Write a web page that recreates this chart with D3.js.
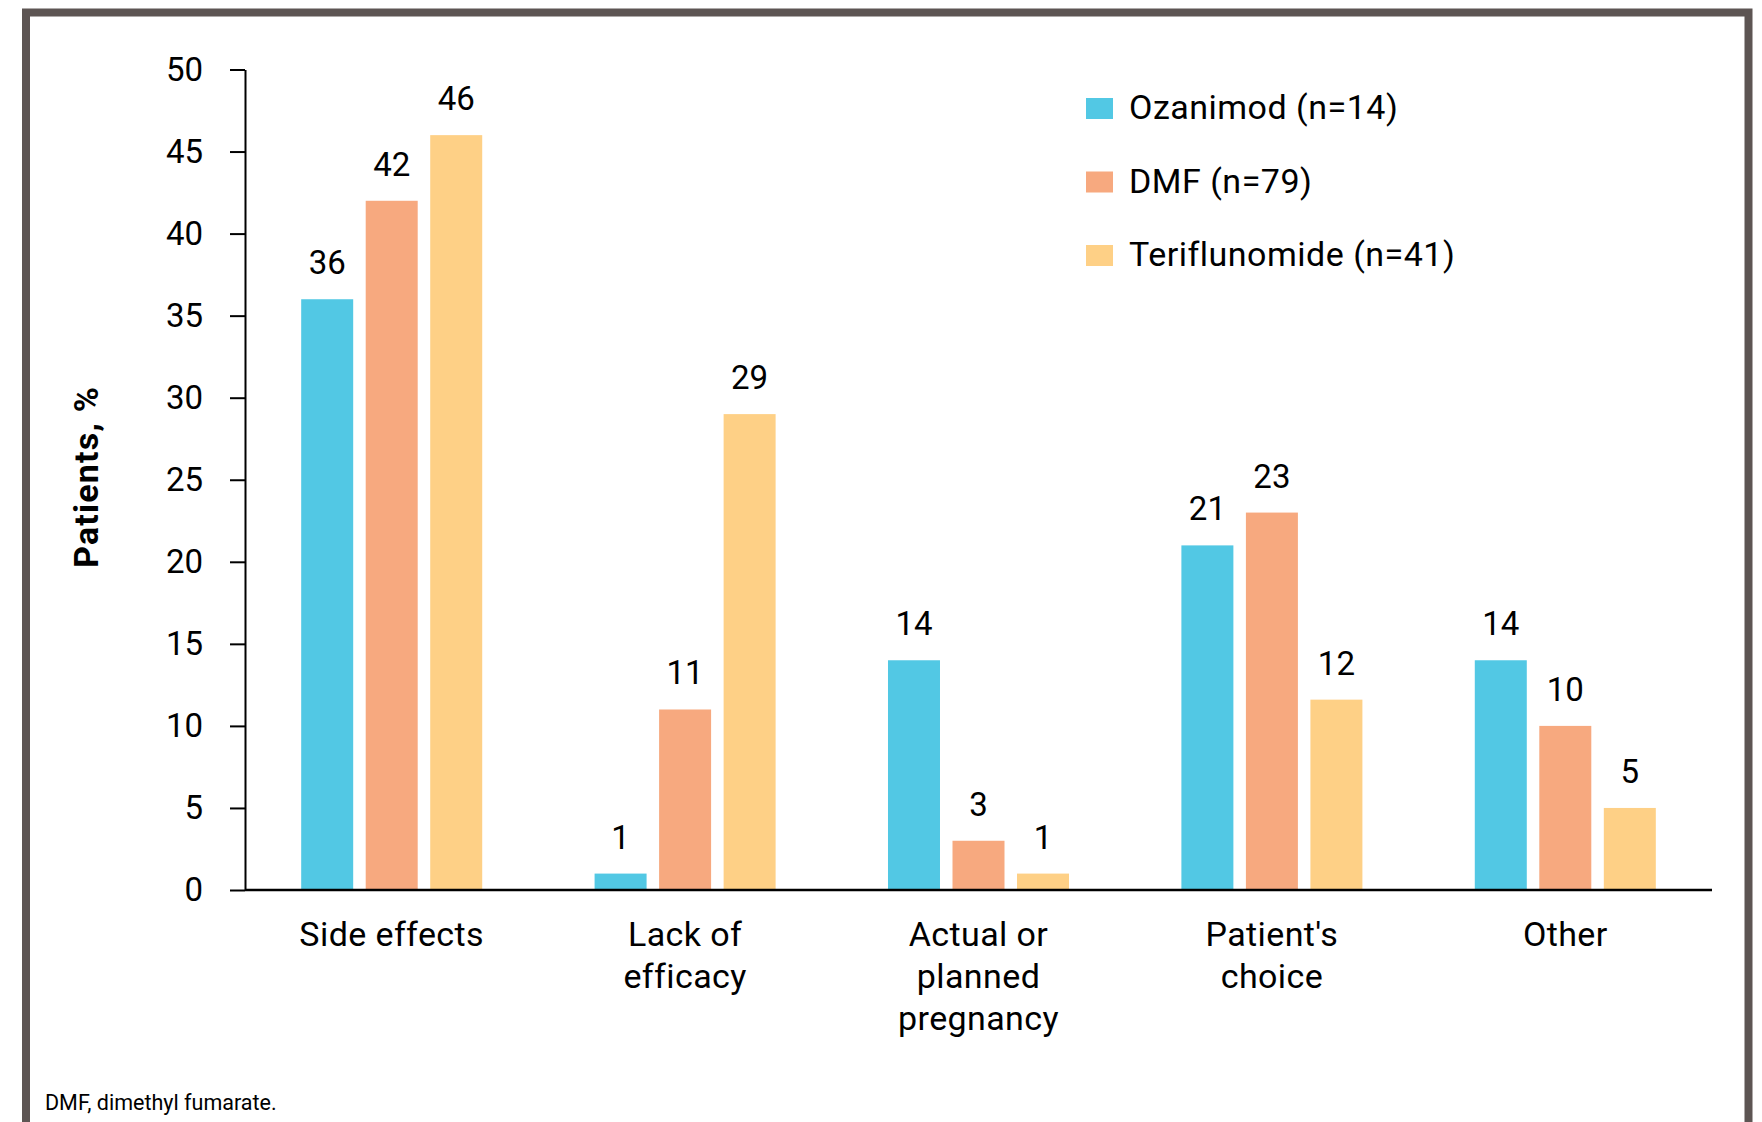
<!DOCTYPE html>
<html>
<head>
<meta charset="utf-8">
<script src="https://cdn.jsdelivr.net/npm/d3@7"></script>
<style>
  body { margin: 0; background: #fff; }
  svg { display: block; font-family: Roboto, "Open Sans", sans-serif; }
</style>
</head>
<body>
<div id="chart"></div>
<script>
// Data
const categories = [["Side effects"], ["Lack of", "efficacy"], ["Actual or", "planned", "pregnancy"], ["Patient's", "choice"], ["Other"]];
const series = ["Ozanimod (n=14)", "DMF (n=79)", "Teriflunomide (n=41)"];
const ozanimod = [36, 1, 14, 21, 14];
const dmf = [42, 11, 3, 23, 10];
const teriflunomide = [46, 29, 1, 11.6, 5];
const yTicks = [0, 5, 10, 15, 20, 25, 30, 35, 40, 45, 50];
const colors = ["#52c8e4", "#f7a97f", "#fed086"];

const width = 1762;
const height = 1122;
const margin = { top: 69.5, right: 50, bottom: 232, left: 245 };

const svg = d3.select("#chart")
  .append("svg")
    .attr("width", width)
    .attr("height", height);

// grey frame round the figure (open at the bottom)
svg.append("path")
  .attr("d", `M26,${height} L26,12.5 L1748.5,12.5 L1748.5,${height}`)
  .attr("fill", "none")
  .attr("stroke", "#5d5553")
  .attr("stroke-width", 8);

const catKeys = categories.map(c => c.join(" "));
const rows = catKeys.map((k, i) => ({ key: k, values: [ozanimod[i], dmf[i], teriflunomide[i]] }));

// Scales
const x0 = d3.scaleBand()
  .domain(catKeys)
  .range([margin.left, 1712])
  .padding(0);

const x1 = d3.scaleBand()
  .domain(series)
  .range([0, x0.bandwidth()])
  .paddingInner(0.194)
  .paddingOuter(0.871);

const y = d3.scaleLinear()
  .domain([0, 50])
  .range([height - margin.bottom, margin.top]);

// Bars
const groups = svg.append("g")
  .selectAll("g")
  .data(rows)
  .enter().append("g")
    .attr("transform", d => `translate(${x0(d.key)},0)`);

groups.selectAll("rect")
  .data(d => d.values.map((v, i) => ({ s: series[i], v: v, i: i })))
  .enter().append("rect")
    .attr("x", d => x1(d.s))
    .attr("y", d => y(d.v))
    .attr("width", x1.bandwidth())
    .attr("height", d => y(0) - y(d.v))
    .attr("fill", d => colors[d.i]);

// value labels
groups.selectAll("text")
  .data(d => d.values.map((v, i) => ({ s: series[i], v: v })))
  .enter().append("text")
    .attr("x", d => x1(d.s) + x1.bandwidth() / 2)
    .attr("y", d => y(d.v) - 25)
    .attr("text-anchor", "middle")
    .style("font-size", "33px")
    .attr("fill", "#000")
    .text(d => d3.format(".0f")(d.v));

// Y axis
const yAxis = svg.append("g")
  .attr("transform", `translate(${margin.left},0)`)
  .call(d3.axisLeft(y).tickValues(yTicks).tickSize(15).tickPadding(27).tickSizeOuter(0));

yAxis.select(".domain").attr("stroke", "#000").attr("stroke-width", 2);
yAxis.selectAll(".tick line").attr("stroke", "#000").attr("stroke-width", 2);
yAxis.selectAll(".tick text")
  .attr("fill", "#000")
  .style("font-size", "33px")
  .style("font-family", "Roboto, sans-serif");

// X axis: baseline only, labels drawn below
svg.append("line")
  .attr("x1", margin.left)
  .attr("x2", 1712)
  .attr("y1", y(0))
  .attr("y2", y(0))
  .attr("stroke", "#000")
  .attr("stroke-width", 2.5);

const xLabels = svg.append("g")
  .selectAll("text")
  .data(categories)
  .enter().append("text")
    .attr("text-anchor", "middle")
    .style("font-size", "34px")
    .style("letter-spacing", "0.4px")
    .attr("fill", "#000")
    .attr("transform", (d, i) => `translate(${x0(catKeys[i]) + x0.bandwidth() / 2},946)`);

xLabels.selectAll("tspan")
  .data(d => d)
  .enter().append("tspan")
    .attr("x", 0)
    .attr("y", (d, i) => i * 42)
    .text(d => d);

// Y axis title
svg.append("text")
  .attr("transform", "translate(98,477) rotate(-90)")
  .attr("text-anchor", "middle")
  .style("font-size", "34px")
  .style("font-weight", "bold")
  .style("letter-spacing", "1.2px")
  .text("Patients, %");

// Legend
const legend = svg.append("g")
  .attr("transform", "translate(1086,98)");

legend.selectAll("rect")
  .data(series)
  .enter().append("rect")
    .attr("x", 0)
    .attr("y", (d, i) => i * 73.5)
    .attr("width", 27)
    .attr("height", 21)
    .attr("fill", (d, i) => colors[i]);

legend.selectAll("text")
  .data(series)
  .enter().append("text")
    .attr("x", 43)
    .attr("y", (d, i) => i * 73.5 + 21)
    .style("font-size", "34px")
    .style("letter-spacing", "0.5px")
    .attr("fill", "#000")
    .text(d => d);

// footnote
svg.append("text")
  .attr("x", 45)
  .attr("y", 1110)
  .style("font-size", "21.5px")
  .attr("fill", "#000")
  .text("DMF, dimethyl fumarate.");
</script>
</body>
</html>
